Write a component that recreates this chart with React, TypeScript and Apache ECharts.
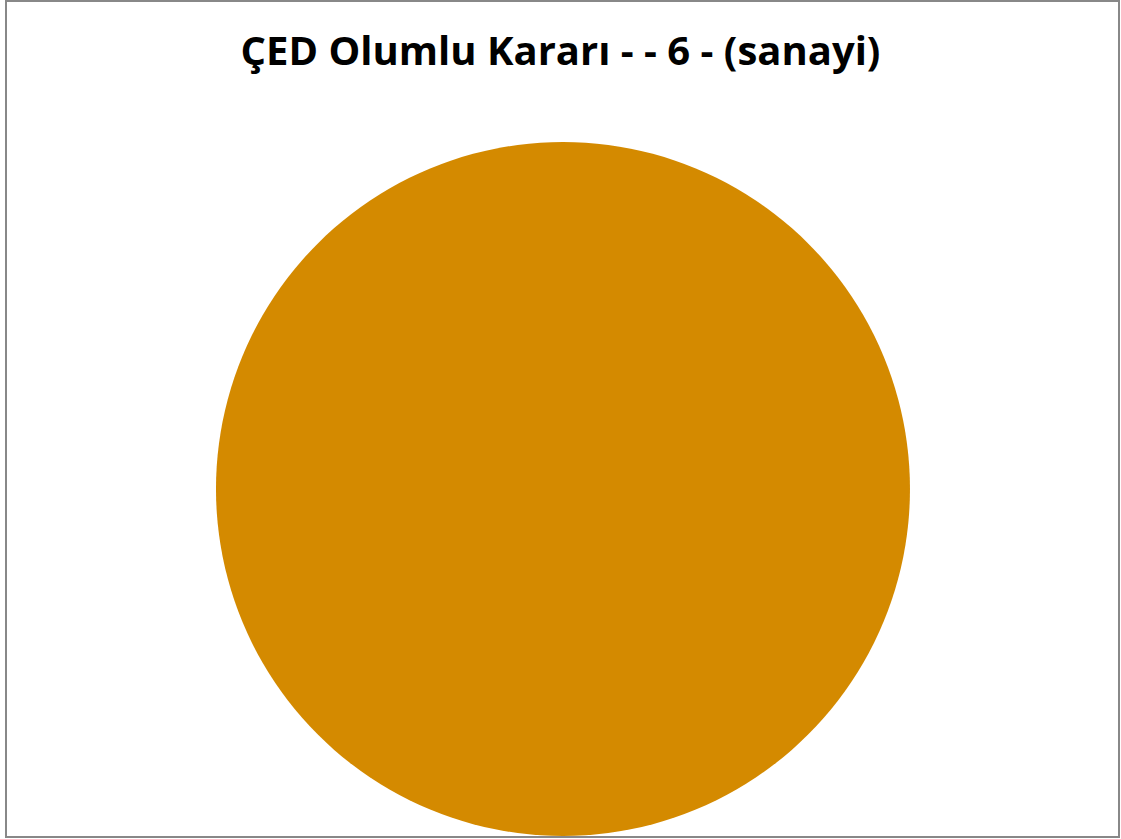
import React, { useEffect, useRef } from "react";
import * as echarts from "echarts";

const titleText = "ÇED Olumlu Kararı - - 6 - (sanayi)";
const categories = ["sanayi"];
const values = [6];
const colors = ["#D48A00"];

export default function App() {
  const ref = useRef<HTMLDivElement>(null);
  useEffect(() => {
    document.body.style.margin = "0";
    const chart = echarts.init(ref.current!, null, { renderer: "svg" });
    chart.setOption({
      animation: false,
      backgroundColor: "#ffffff",
      title: {
        text: titleText,
        left: "center",
        top: 24,
        textStyle: {
          fontFamily: "Open Sans",
          fontWeight: "bold",
          fontSize: 40,
          color: "#000000",
        },
      },
      graphic: [
        {
          type: "rect",
          shape: { x: 6, y: 1, width: 1113, height: 836 },
          style: { fill: "none", stroke: "#888888", lineWidth: 2 },
          z: 10,
        },
      ],
      series: [
        {
          type: "pie",
          center: [563, 489],
          radius: [0, 347],
          label: { show: false },
          labelLine: { show: false },
          silent: true,
          itemStyle: { borderWidth: 0 },
          data: categories.map((c, i) => ({
            name: c,
            value: values[i],
            itemStyle: { color: colors[i] },
          })),
        },
      ],
    });
    return () => chart.dispose();
  }, []);
  return (
    <div
      ref={ref}
      style={{ position: "absolute", left: 0, top: 0, width: 1121, height: 839 }}
    />
  );
}
